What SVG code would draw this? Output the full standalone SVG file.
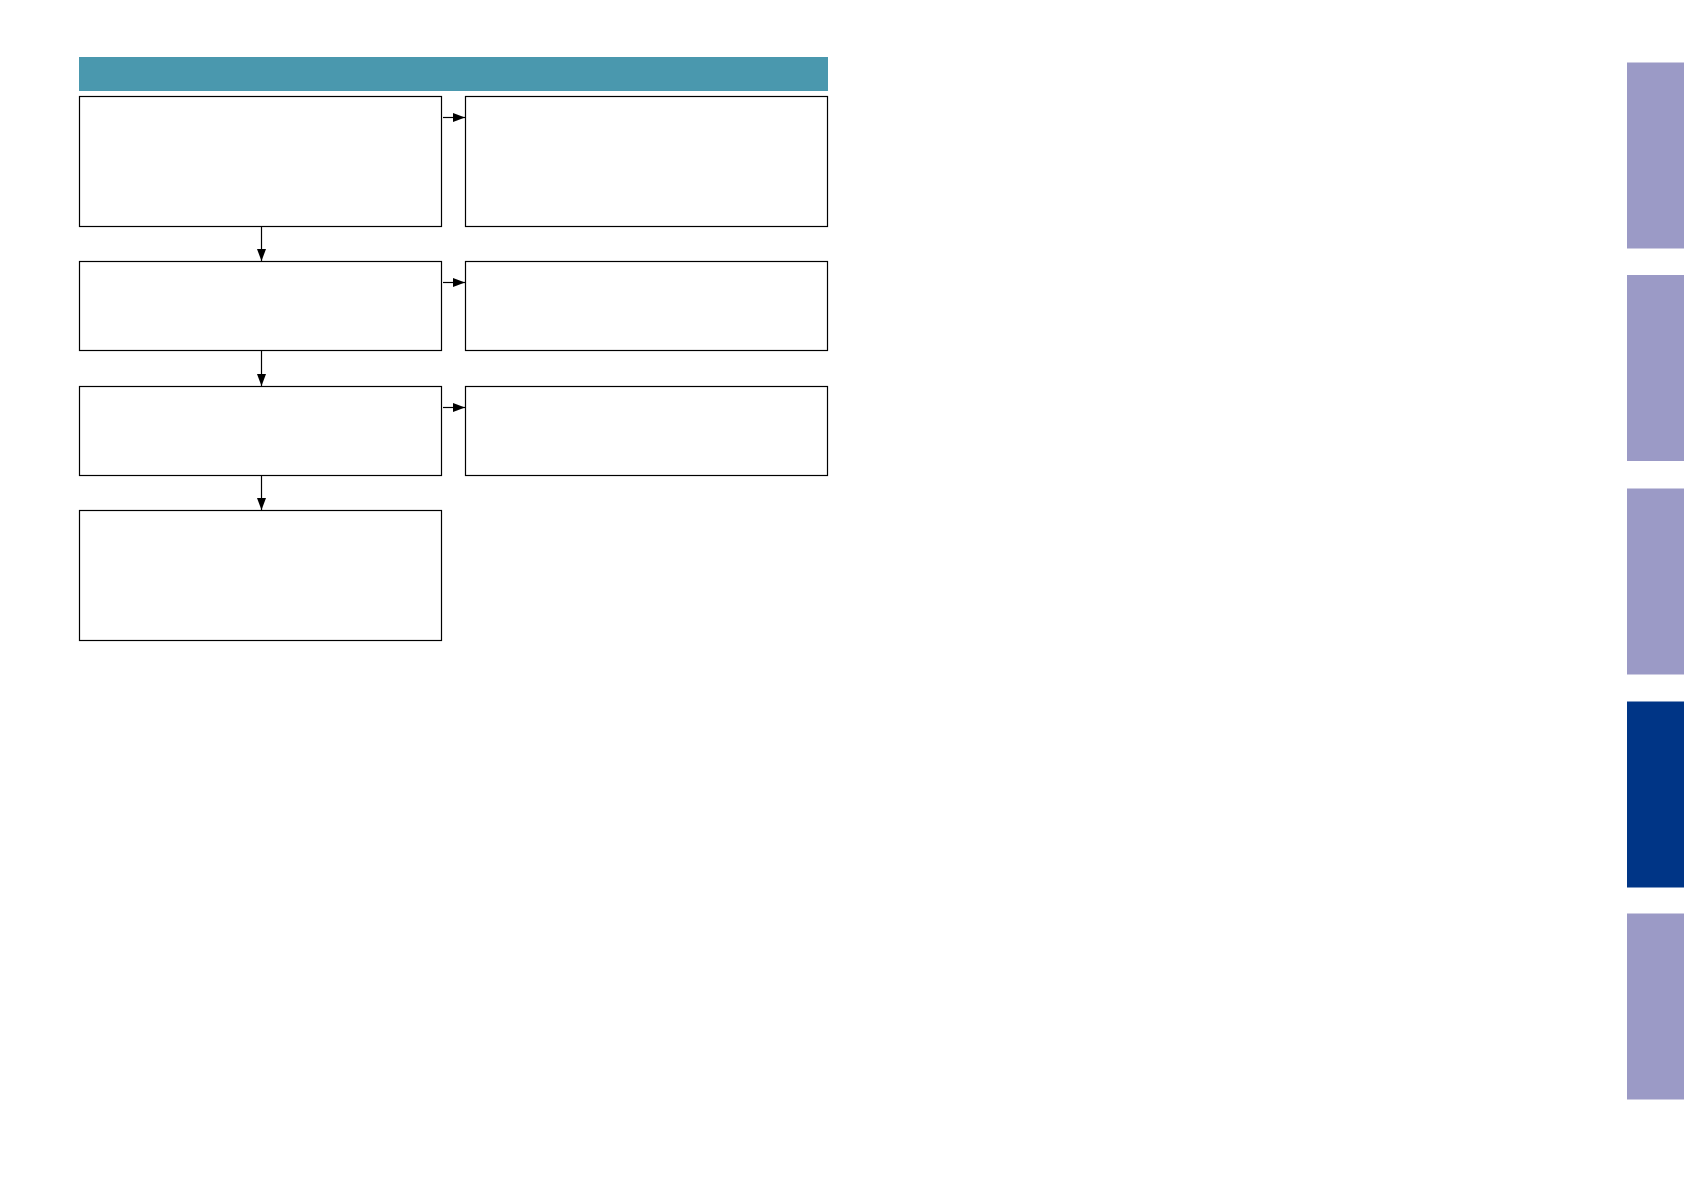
<svg xmlns="http://www.w3.org/2000/svg" width="1684" height="1191" viewBox="0 0 1684 1191">
<style>
.box{fill:#fff;stroke:#000;stroke-width:1.2}
.conn{stroke:#000;stroke-width:1.2;fill:none}
.tab{fill:#9B9AC6}
.tab-on{fill:#003586}
</style>
<defs>
<marker id="ah" markerWidth="12" markerHeight="9" refX="12" refY="4.5" orient="auto" markerUnits="userSpaceOnUse">
<path d="M0,0 L12,4.5 L0,9 Z" fill="#000"/>
</marker>
</defs>
<rect width="1684" height="1191" fill="#fff"/>
<g id="banner"><rect x="79" y="57" width="749" height="34" fill="#4A98AE"/></g>
<g id="node-l1"><rect class="box" x="79.5" y="96.5" width="362" height="130"/></g>
<g id="node-r1"><rect class="box" x="465.5" y="96.5" width="362" height="130"/></g>
<g id="node-l2"><rect class="box" x="79.5" y="261.5" width="362" height="89"/></g>
<g id="node-r2"><rect class="box" x="465.5" y="261.5" width="362" height="89"/></g>
<g id="node-l3"><rect class="box" x="79.5" y="386.5" width="362" height="89"/></g>
<g id="node-r3"><rect class="box" x="465.5" y="386.5" width="362" height="89"/></g>
<g id="node-l4"><rect class="box" x="79.5" y="510.5" width="362" height="130"/></g>
<g id="connectors">
<line class="conn" x1="443" y1="117.5" x2="465" y2="117.5" marker-end="url(#ah)"/>
<line class="conn" x1="443" y1="282.5" x2="465" y2="282.5" marker-end="url(#ah)"/>
<line class="conn" x1="443" y1="407.5" x2="465" y2="407.5" marker-end="url(#ah)"/>
<line class="conn" x1="261.5" y1="227" x2="261.5" y2="261" marker-end="url(#ah)"/>
<line class="conn" x1="261.5" y1="351" x2="261.5" y2="386" marker-end="url(#ah)"/>
<line class="conn" x1="261.5" y1="476" x2="261.5" y2="510" marker-end="url(#ah)"/>
</g>
<g id="tabs">
<rect class="tab" x="1627" y="62.5" width="57" height="186"/>
<rect class="tab" x="1627" y="275" width="57" height="186"/>
<rect class="tab" x="1627" y="488.5" width="57" height="186"/>
<rect class="tab-on" x="1627" y="701.5" width="57" height="186"/>
<rect class="tab" x="1627" y="913.5" width="57" height="186"/>
</g>
</svg>
